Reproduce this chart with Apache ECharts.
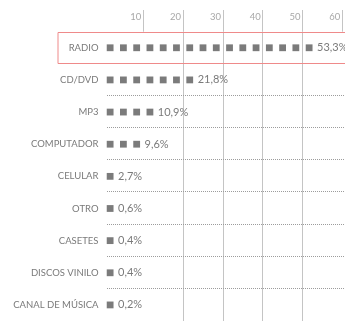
<!DOCTYPE html>
<html>
<head>
<meta charset="utf-8">
<script src="https://cdn.jsdelivr.net/npm/echarts@6/dist/echarts.min.js"></script>
<style>
  html, body { margin: 0; padding: 0; background: #fff; }
  #chart { width: 345px; height: 321px; }
</style>
</head>
<body>
<div id="chart"></div>
<script>
// Medios para escuchar música (% de respuestas)
const categories = ['RADIO', 'CD/DVD', 'MP3', 'COMPUTADOR', 'CELULAR', 'OTRO', 'CASETES', 'DISCOS VINILO', 'CANAL DE MÚSICA'];
const values = [53.3, 21.8, 10.9, 9.6, 2.7, 0.6, 0.4, 0.4, 0.2];
const tickValues = [10, 20, 30, 40, 50, 60];
const highlighted = 'RADIO';

// each square stands for one third of ten percentage points
const SQUARE_UNIT = 10 / 3;
const SQUARE_SIZE = 6.8;
const TEXT = '#7a7a7a';
const GRID_LINE = '#c4c4c4';

const chart = echarts.init(document.getElementById('chart'), null, { renderer: 'canvas' });

function fmt(v) {
  return v.toFixed(1).replace('.', ',') + '%';
}

function renderRow(params, api) {
  const cat = params.dataIndex;
  const v = api.value(1);
  const n = Math.max(1, Math.ceil(v / SQUARE_UNIT - 1e-9));
  const band = api.size([0, 1])[1];
  const origin = api.coord([0, cat]);
  const cy = origin[1];
  const children = [];

  if (categories[cat] === highlighted) {
    children.push({
      type: 'rect',
      shape: { x: origin[0] - 45.5, y: Math.round(cy - band / 2) + 0.5, width: 400, height: Math.round(band) - 1 },
      style: { fill: 'none', stroke: '#ef8a8a', lineWidth: 1 },
      z2: 5
    });
  }

  // dotted rule under every row but the last, built from 1px dots
  if (cat < categories.length - 1) {
    const ly = Math.floor(cy + band / 2 - 0.5);
    for (let x = Math.round(origin[0] + 3); x < 345; x += 2) {
      children.push({
        type: 'rect',
        shape: { x: x, y: ly, width: 1, height: 1 },
        style: { fill: '#9c9c9c' },
        z2: 3
      });
    }
  }

  let lastRight = origin[0];
  for (let i = 0; i < n; i++) {
    const p = api.coord([(i + 0.5) * SQUARE_UNIT, cat]);
    children.push({
      type: 'rect',
      shape: { x: p[0] - SQUARE_SIZE / 2, y: p[1] - SQUARE_SIZE / 2, width: SQUARE_SIZE, height: SQUARE_SIZE },
      style: { fill: '#7b7b7b' },
      z2: 10
    });
    lastRight = p[0] + SQUARE_SIZE / 2;
  }

  children.push({
    type: 'text',
    x: lastRight + 4.5,
    y: cy,
    style: {
      text: fmt(v),
      fill: TEXT,
      font: '11px Lato, "Open Sans", sans-serif',
      align: 'left',
      verticalAlign: 'middle'
    },
    z2: 12
  });

  return { type: 'group', children: children };
}

chart.setOption({
  animation: false,
  grid: { left: 103.5, right: 0, top: 31.7, height: 293.4, containLabel: false },
  xAxis: {
    type: 'value',
    position: 'top',
    min: 0,
    max: 60.68,
    interval: 10,
    axisLine: { show: false },
    axisTick: {
      show: true,
      customValues: tickValues,
      inside: false,
      length: 21.7,
      lineStyle: { color: GRID_LINE, width: 1 }
    },
    axisLabel: {
      customValues: tickValues,
      color: '#a8a8a8',
      fontFamily: 'Lato, "Open Sans", sans-serif',
      fontSize: 9.5,
      align: 'right',
      verticalAlign: 'middle',
      margin: 15,
      padding: [0, 2, 0, 0]
    },
    splitLine: {
      show: true,
      showMinLine: false,
      showMaxLine: false,
      lineStyle: { color: GRID_LINE, width: 1 }
    }
  },
  yAxis: {
    type: 'category',
    inverse: true,
    data: categories,
    axisLine: { show: false },
    axisTick: { show: false },
    splitLine: { show: false },
    axisLabel: {
      color: TEXT,
      fontFamily: 'Lato, "Open Sans", sans-serif',
      fontSize: 9.5,
      margin: 5
    }
  },
  series: [{
    type: 'custom',
    renderItem: renderRow,
    encode: { x: 1, y: 0 },
    data: values.map((v, i) => [i, v]),
    clip: false,
    silent: true
  }]
});
</script>
</body>
</html>
